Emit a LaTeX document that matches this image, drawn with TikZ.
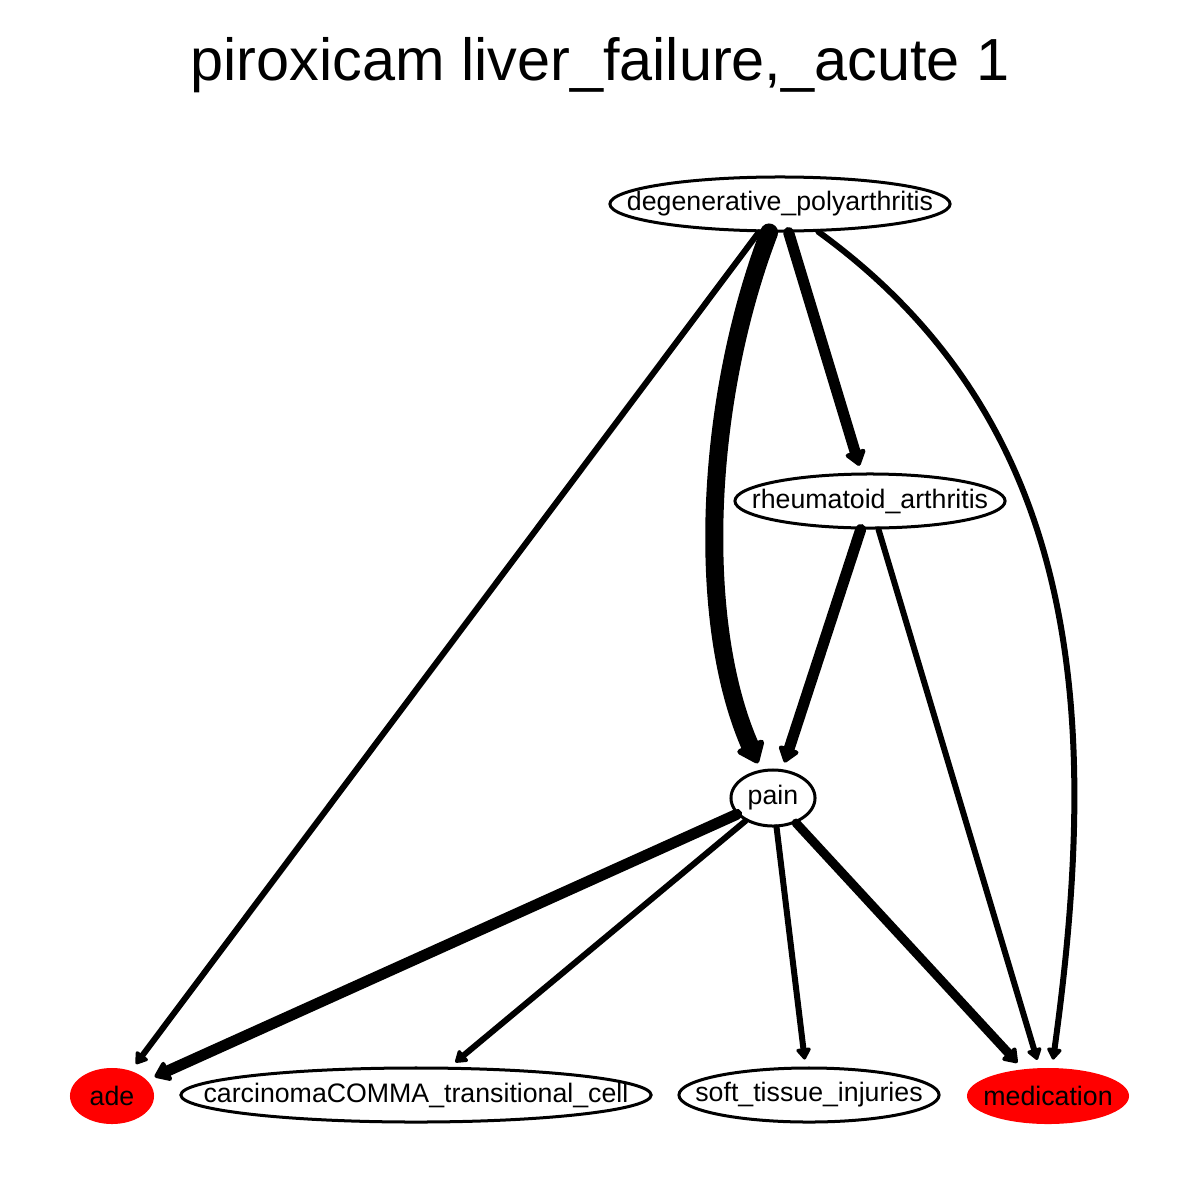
\documentclass[tikz,border=0pt]{standalone}
\usepackage{fontspec}
\setmainfont{Liberation Sans}
\usetikzlibrary{arrows.meta,shapes.geometric}

\newcommand\lbl[1]{\makebox[0pt]{#1}}

\tikzset{
  vertex/.style={ellipse, draw, line width=0.03cm, inner sep=0pt,
    minimum height=0.54cm, font=\fontsize{7.6}{9}\selectfont},
  hit/.style={vertex, draw=none, fill=red, minimum height=0.56cm},
  link/.style={line width=#1, line cap=round, line join=round,
    -{Triangle[round, length=0.08cm 0.8, width=0.08cm 1.4]}, shorten >=0.07cm}
}

\begin{document}
\begin{tikzpicture}[x=0.01cm, y=-0.01cm]
  \useasboundingbox (0,0) rectangle (1200,1200);

  \node[font=\fontsize{16.9}{20}\selectfont] (title) at (600,65) {piroxicam liver\_failure,\_acute 1};

  \node[vertex, minimum width=3.4cm] (degpoly) at (780,204) {\lbl{degenerative\_polyarthritis}};
  \node[vertex, minimum width=2.7cm] (rheuma) at (870,501) {\lbl{rheumatoid\_arthritis}};
  \node[vertex, minimum width=0.84cm, minimum height=0.56cm] (pain) at (773,798) {\lbl{pain}};
  \node[hit, minimum width=0.84cm] (ade) at (112,1096) {\lbl{ade}};
  \node[vertex, minimum width=4.7cm] (carcinoma) at (416,1095) {\lbl{carcinomaCOMMA\_transitional\_cell}};
  \node[vertex, minimum width=2.6cm] (softtissue) at (809,1095) {\lbl{soft\_tissue\_injuries}};
  \node[hit, minimum width=1.62cm] (medication) at (1048,1096) {\lbl{medication}};

  \coordinate (c1) at (705,400);
  \coordinate (c2) at (695,620);
  \coordinate (c3) at (1085,425);
  \coordinate (c4) at (1100,720);

  \draw[link=0.06cm] (degpoly) -- (ade);
  \draw[link=0.18cm] (degpoly) .. controls (c1) and (c2) .. (pain);
  \draw[link=0.11cm] (degpoly) -- (rheuma);
  \draw[link=0.06cm] (degpoly) .. controls (c3) and (c4) .. (medication);
  \draw[link=0.11cm] (rheuma) -- (pain);
  \draw[link=0.06cm] (rheuma) -- (medication);
  \draw[link=0.11cm] (pain) -- (ade);
  \draw[link=0.06cm] (pain) -- (carcinoma);
  \draw[link=0.06cm] (pain) -- (softtissue);
  \draw[link=0.09cm] (pain) -- (medication);
\end{tikzpicture}
\end{document}
